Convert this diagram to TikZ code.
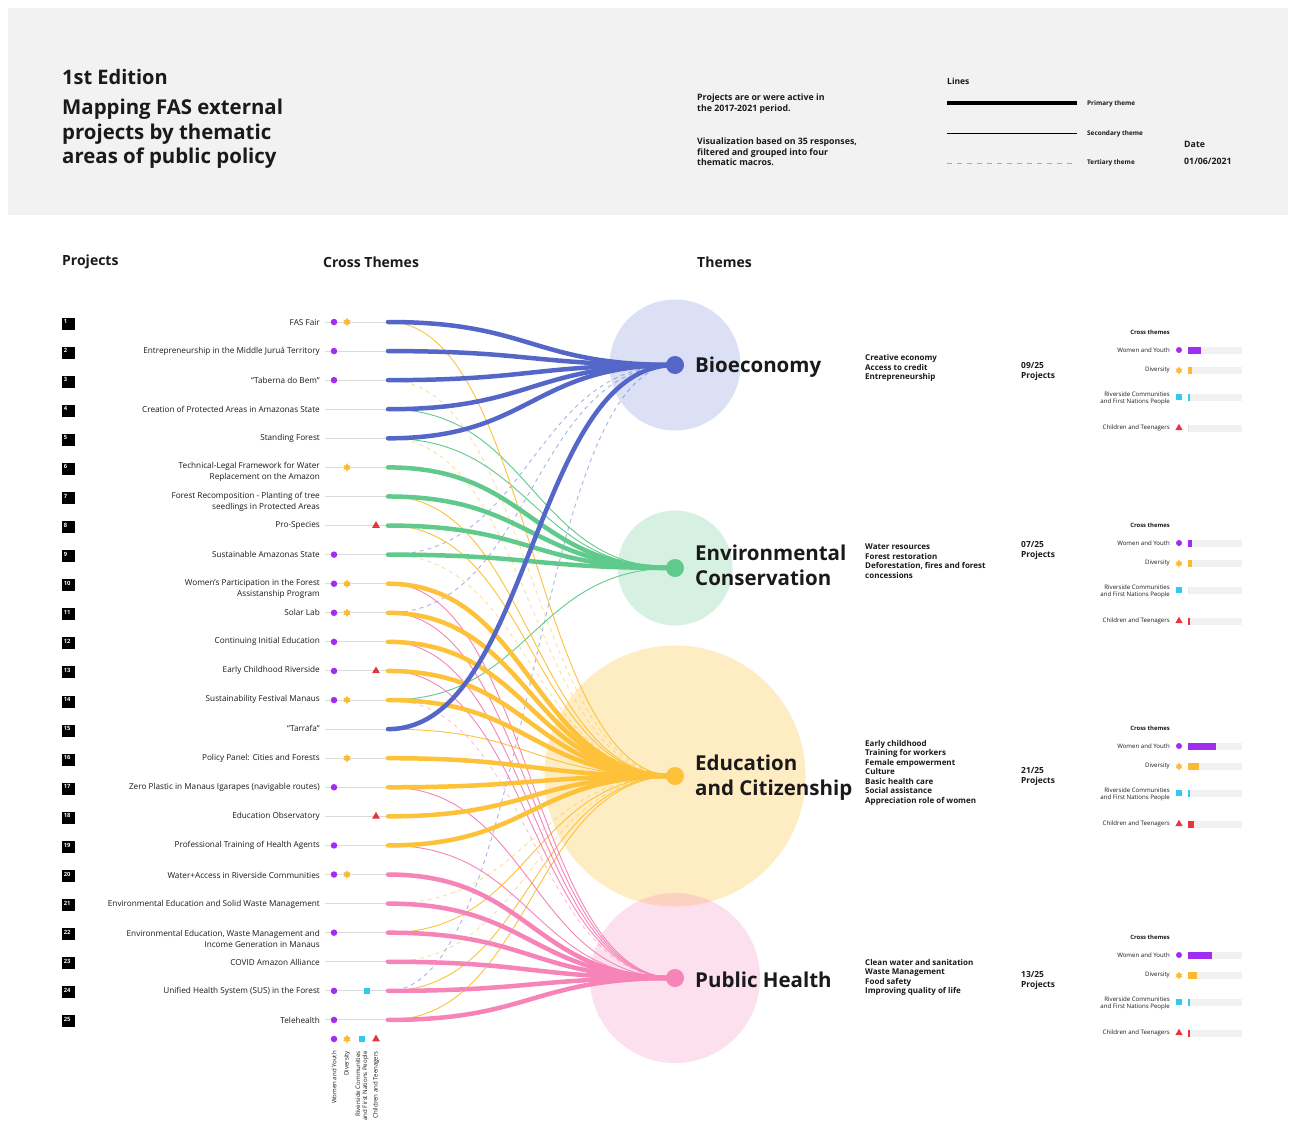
\documentclass[tikz,border=0pt]{standalone}
\usepackage{fontspec}
\setmainfont{Open Sans}
\usetikzlibrary{shapes.geometric}
\definecolor{cBio}{HTML}{5467C9}
\definecolor{cEnv}{HTML}{5FCA8C}
\definecolor{cEdu}{HTML}{FDC13A}
\definecolor{cPH}{HTML}{F784B9}
\definecolor{cWY}{HTML}{A22DF0}
\definecolor{cDiv}{HTML}{FDB930}
\definecolor{cRiv}{HTML}{2ECBF0}
\definecolor{cCT}{HTML}{E8343A}
\definecolor{ink}{HTML}{1A1A1A}
\definecolor{headbg}{HTML}{F2F2F2}
\definecolor{stubgray}{HTML}{DCDCDC}
\definecolor{bargray}{HTML}{F1F1F1}
\definecolor{dashgray}{HTML}{AAAAAA}
\tikzset{
 txt/.style={inner sep=0pt, text=ink},
 plabel/.style={txt, anchor=east, align=right, font=\fontsize{8.2}{11}\selectfont},
 head/.style={txt, anchor=west, font=\bfseries\fontsize{14}{16}\selectfont},
 theme/.style={txt, anchor=west, align=left, font=\bfseries\fontsize{20.5}{25}\selectfont},
 desc/.style={txt, anchor=west, align=left, font=\bfseries\fontsize{8}{9.5}\selectfont},
 cnt/.style={txt, anchor=west, align=left, font=\bfseries\fontsize{8.4}{10}\selectfont},
 ptitle/.style={txt, anchor=east, font=\bfseries\fontsize{5.9}{7}\selectfont},
 plab/.style={txt, anchor=east, align=right, font=\fontsize{6.1}{7}\selectfont},
 vlab/.style={txt, anchor=east, rotate=90, align=right, font=\fontsize{6.1}{7}\selectfont},
 numbox/.style={fill=black, minimum width=13pt, minimum height=12pt, inner sep=0},
 numtxt/.style={inner sep=0, text=white, font=\bfseries\fontsize{5.8}{6}\selectfont},
 stub/.style={draw=stubgray, line width=1pt},
 prim/.style={line width=4.5pt, line cap=round},
 sec/.style={line width=0.9pt},
 ter/.style={line width=0.9pt, dash pattern=on 4pt off 4pt, draw opacity=0.5},
 mWY/.style={circle, fill=cWY, minimum size=6.5pt, inner sep=0},
 mDiv/.style={star, star points=6, star point ratio=1.8, fill=cDiv, minimum size=8.5pt, inner sep=0},
 mRiv/.style={rectangle, fill=cRiv, minimum size=6.5pt, inner sep=0},
 mCT/.style={regular polygon, regular polygon sides=3, fill=cCT, minimum size=9pt, inner sep=0},
 tdot/.style={circle, minimum size=18pt, inner sep=0},
 tcirc/.style={circle, inner sep=0},
 hdtxt/.style={txt, anchor=west, align=left, font=\bfseries\fontsize{8.8}{10.5}\selectfont},
 lgtxt/.style={txt, anchor=west, font=\bfseries\fontsize{6.4}{7}\selectfont},
}
\newcommand\crosspanel[6]{%
  \node[ptitle] (#1t) at (1170,#2) {Cross themes};
  \node[plab] (#1a) at (1170,#2+18) {Women and Youth};
  \node[plab] (#1b) at (1170,#2+38) {Diversity};
  \node[plab] (#1c) at (1170,#2+66.5) {Riverside Communities\\and First Nations People};
  \node[plab] (#1d) at (1170,#2+96) {Children and Teenagers};
  \foreach \dy/\w/\c in {18/#3/cWY, 38.5/#4/cDiv, 65/#5/cRiv, 96/#6/cCT}{
    \fill[bargray] (1188,#2+\dy-3.5) rectangle (1242,#2+\dy+3.5);
    \fill[\c] (1188,#2+\dy-3.5) rectangle (1188+\w,#2+\dy+3.5);
  }
  \node[mWY, minimum size=6pt] (#1am) at (1179,#2+18) {};
  \node[mDiv, minimum size=8pt] (#1bm) at (1179,#2+38.5) {};
  \node[mRiv, minimum size=6pt] (#1cm) at (1179,#2+65) {};
  \node[mCT, minimum size=8.5pt] (#1dm) at (1179,#2+96) {};
}
\begin{document}
\begin{tikzpicture}[x=1pt,y=-1pt]
\useasboundingbox (0,0) rectangle (1290,1124);
\fill[white] (0,0) rectangle (1290,1124);
\fill[headbg] (8,8) rectangle (1288,215);

% header
\node[txt, anchor=west, font=\bfseries\fontsize{20}{24}\selectfont] (ed) at (62,77) {1st Edition};
\node[txt, anchor=west, align=left, font=\bfseries\fontsize{20.4}{24.5}\selectfont] (title) at (62,134) {Mapping FAS external\\projects by thematic\\areas of public policy};
\node[hdtxt] (note1) at (697,103.5) {Projects are or were active in\\the 2017-2021 period.};
\node[hdtxt] (note2) at (697,152) {Visualization based on 35 responses,\\filtered and grouped into four\\thematic macros.};
\node[txt, anchor=west, font=\bfseries\fontsize{8.5}{10}\selectfont] (lines) at (947,81.5) {Lines};
\coordinate (la1) at (947,103); \coordinate (lb1) at (1077,103);
\coordinate (la2) at (947,133); \coordinate (lb2) at (1077,133);
\coordinate (la3) at (947,163); \coordinate (lb3) at (1077,163);
\draw[line width=4pt] (la1) -- (lb1);
\draw[line width=0.9pt] (la2) -- (lb2);
\draw[line width=0.9pt, dashgray, dash pattern=on 5pt off 5pt] (la3) -- (lb3);
\node[lgtxt] (lg1) at (1087,104) {Primary theme};
\node[lgtxt] (lg2) at (1087,133.5) {Secondary theme};
\node[lgtxt] (lg3) at (1087,162.5) {Tertiary theme};
\node[txt, anchor=west, font=\bfseries\fontsize{8.8}{10}\selectfont] (date) at (1184,144) {Date};
\node[txt, anchor=west, font=\bfseries\fontsize{8.8}{10}\selectfont] (dval) at (1184,161) {01/06/2021};

% section headings
\node[head] (hp) at (62,262) {Projects};
\node[head] (hc) at (323,262) {Cross Themes};
\node[head] (ht) at (697,262) {Themes};

% theme hubs
\coordinate (hBio) at (675,365);
\coordinate (hEnv) at (675,568);
\coordinate (hEdu) at (675,776);
\coordinate (hPH) at (675,978);
\node[tcirc, fill=cBio, fill opacity=0.2, minimum size=131pt] (cbio) at (hBio) {};
\node[tcirc, fill=cEnv, fill opacity=0.25, minimum size=115pt] (cenv) at (hEnv) {};
\node[tcirc, fill=cEdu, fill opacity=0.3, minimum size=261pt] (cedu) at (hEdu) {};
\node[tcirc, fill=cPH, fill opacity=0.25, minimum size=170pt] (cph) at (hPH) {};

% rows
\foreach \i in {1,...,25}{
  \pgfmathsetmacro\yy{322+29.08*(\i-1)}
  \node[numbox] (b\i) at (68.5,\yy+1.5) {};
  \node[numtxt, anchor=north west] (n\i) at (63.6,\yy-2.8) {\i};
  \coordinate (s\i) at (325,\yy);
  \coordinate (e\i) at (388,\yy);
  \draw[stub] (s\i) -- (e\i);
}

% project labels
\node[plabel] (p1) at (320,322.5) {FAS Fair};
\node[plabel] (p2) at (320,351.5) {Entrepreneurship in the Middle Juruá Territory};
\node[plabel] (p3) at (320,380.5) {“Taberna do Bem”};
\node[plabel] (p4) at (320,409.5) {Creation of Protected Areas in Amazonas State};
\node[plabel] (p5) at (320,438.5) {Standing Forest};
\node[plabel] (p6) at (320,472) {Technical-Legal Framework for Water\\Replacement on the Amazon};
\node[plabel] (p7) at (320,502) {Forest Recomposition - Planting of tree\\seedlings in Protected Areas};
\node[plabel] (p8) at (320,525.5) {Pro-Species};
\node[plabel] (p9) at (320,554.5) {Sustainable Amazonas State};
\node[plabel] (p10) at (320,589) {Women's Participation in the Forest\\Assistanship Program};
\node[plabel] (p11) at (320,612.5) {Solar Lab};
\node[plabel] (p12) at (320,641.5) {Continuing Initial Education};
\node[plabel] (p13) at (320,670.5) {Early Childhood Riverside};
\node[plabel] (p14) at (320,699.5) {Sustainability Festival Manaus};
\node[plabel] (p15) at (320,728.5) {“Tarrafa”};
\node[plabel] (p16) at (320,758.5) {Policy Panel: Cities and Forests};
\node[plabel] (p17) at (320,787.5) {Zero Plastic in Manaus Igarapes (navigable routes)};
\node[plabel] (p18) at (320,816.5) {Education Observatory};
\node[plabel] (p19) at (320,845.5) {Professional Training of Health Agents};
\node[plabel] (p20) at (320,875.5) {Water+Access in Riverside Communities};
\node[plabel] (p21) at (320,904.5) {Environmental Education and Solid Waste Management};
\node[plabel] (p22) at (320,938.5) {Environmental Education, Waste Management and\\Income Generation in Manaus};
\node[plabel] (p23) at (320,962.5) {COVID Amazon Alliance};
\node[plabel] (p24) at (320,991.5) {Unified Health System (SUS) in the Forest};
\node[plabel] (p25) at (320,1020.5) {Telehealth};

% tertiary connectors
\foreach \i in {9,11,24} \draw[ter,cBio] (e\i) .. controls +(143.5,0) and +(-143.5,0) .. (hBio);
\foreach \i in {3,5,9,21,23} \draw[ter,cEdu] (e\i) .. controls +(143.5,0) and +(-143.5,0) .. (hEdu);
\foreach \i in {14} \draw[ter,cPH] (e\i) .. controls +(143.5,0) and +(-143.5,0) .. (hPH);
% secondary connectors
\foreach \i in {4,5,14} \draw[sec,cEnv] (e\i) .. controls +(143.5,0) and +(-143.5,0) .. (hEnv);
\foreach \i in {1,7,8,15,22,24,25} \draw[sec,cEdu] (e\i) .. controls +(143.5,0) and +(-143.5,0) .. (hEdu);
\foreach \i in {10,11,12,13,17,19} \draw[sec,cPH] (e\i) .. controls +(143.5,0) and +(-143.5,0) .. (hPH);
% primary connectors
\foreach \i in {10,11,12,13,14,16,17,18,19} \draw[prim,cEdu] (e\i) .. controls +(143.5,0) and +(-143.5,0) .. (hEdu);
\foreach \i in {20,21,22,23,24,25} \draw[prim,cPH] (e\i) .. controls +(143.5,0) and +(-143.5,0) .. (hPH);
\foreach \i in {6,7,8,9} \draw[prim,cEnv] (e\i) .. controls +(143.5,0) and +(-143.5,0) .. (hEnv);
\foreach \i in {1,2,3,4,5,15} \draw[prim,cBio] (e\i) .. controls +(143.5,0) and +(-143.5,0) .. (hBio);

% theme dots
\node[tdot, fill=cBio] (dbio) at (hBio) {};
\node[tdot, fill=cEnv] (denv) at (hEnv) {};
\node[tdot, fill=cEdu] (dedu) at (hEdu) {};
\node[tdot, fill=cPH] (dph) at (hPH) {};

% markers
\foreach \i in {1,2,3,9,10,11,12,13,14,17,19,20,22,24,25}{
  \pgfmathsetmacro\yy{322+29.08*(\i-1)}
  \node[mWY] (w\i) at (334,\yy) {};
}
\foreach \i in {1,6,10,11,14,16,20}{
  \pgfmathsetmacro\yy{322+29.08*(\i-1)}
  \node[mDiv] (d\i) at (347,\yy) {};
}
\foreach \i in {24}{
  \pgfmathsetmacro\yy{322+29.08*(\i-1)}
  \node[mRiv] (r\i) at (367,\yy) {};
}
\foreach \i in {8,13,18}{
  \pgfmathsetmacro\yy{322+29.08*(\i-1)}
  \node[mCT] (c\i) at (376,\yy) {};
}

% bottom legend
\node[mWY] (lw) at (334,1039) {};
\node[mDiv] (ld) at (347,1039) {};
\node[mRiv] (lr) at (362,1039) {};
\node[mCT] (lc) at (376,1039) {};
\node[vlab] (lwt) at (334,1051) {Women and Youth};
\node[vlab] (ldt) at (347,1051) {Diversity};
\node[vlab] (lrt) at (362,1051) {Riverside Communities\\and First Nations People};
\node[vlab] (lct) at (376,1051) {Children and Teenagers};

% theme labels
\node[theme] (lbio) at (695,367.5) {Bioeconomy};
\node[theme] (lenv) at (695,565.5) {Environmental\\Conservation};
\node[theme] (ledu) at (695,777.5) {Education\\and Citizenship};
\node[theme] (lph) at (695,980) {Public Health};

% descriptions
\node[desc] (xbio) at (865,368) {Creative economy\\Access to credit\\Entrepreneurship};
\node[desc] (xenv) at (865,561) {Water resources\\Forest restoration\\Deforestation, fires and forest\\concessions};
\node[desc] (xedu) at (865,772.5) {Early childhood\\Training for workers\\Female empowerment\\Culture\\Basic health care\\Social assistance\\Appreciation role of women};
\node[desc] (xph) at (865,977.5) {Clean water and sanitation\\Waste Management\\Food safety\\Improving quality of life};

% counts
\node[cnt] (kbio) at (1021,371) {09/25\\Projects};
\node[cnt] (kenv) at (1021,550) {07/25\\Projects};
\node[cnt] (kedu) at (1021,776) {21/25\\Projects};
\node[cnt] (kph) at (1021,980) {13/25\\Projects};

% cross-theme panels
\crosspanel{qb}{332}{12.96}{4.32}{2.16}{0}
\crosspanel{qe}{525}{4.32}{4.32}{0}{2.16}
\crosspanel{qd}{728}{28.08}{10.8}{2.16}{6.48}
\crosspanel{qh}{937}{23.76}{8.64}{2.16}{2.16}
\end{tikzpicture}
\end{document}
